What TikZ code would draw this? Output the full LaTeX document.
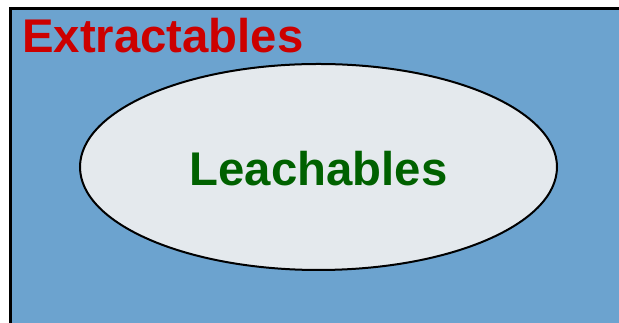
\documentclass[tikz,border=0pt]{standalone}
\usepackage{fontspec}
\setmainfont{Liberation Sans}
\usetikzlibrary{shapes.geometric}
\definecolor{boxblue}{HTML}{6CA3CF}
\definecolor{ellfill}{HTML}{E4E9ED}
\definecolor{extred}{HTML}{CC0000}
\definecolor{leachgreen}{HTML}{006100}
\begin{document}
\begin{tikzpicture}[x=1pt,y=1pt,
  lbl/.style={font=\fontsize{47.3}{50}\selectfont\bfseries, inner sep=0pt}]
\useasboundingbox (0,0) rectangle (619,323);
\begin{scope}
\clip (0,0) rectangle (619,323);
\draw[line width=3pt, fill=boxblue] (10.5,-20) rectangle (640,314.5);
\node[draw=black, line width=2pt, fill=ellfill, ellipse, minimum width=477pt, minimum height=206pt, inner sep=0pt] (leach) at (318.5,156) {};
\end{scope}
\node[lbl, text=extred, anchor=base west] (ext) at (22,270) {Extractables};
\node[lbl, text=leachgreen, anchor=base] (leachtxt) at (318.5,137) {Leachables};
\end{tikzpicture}
\end{document}
